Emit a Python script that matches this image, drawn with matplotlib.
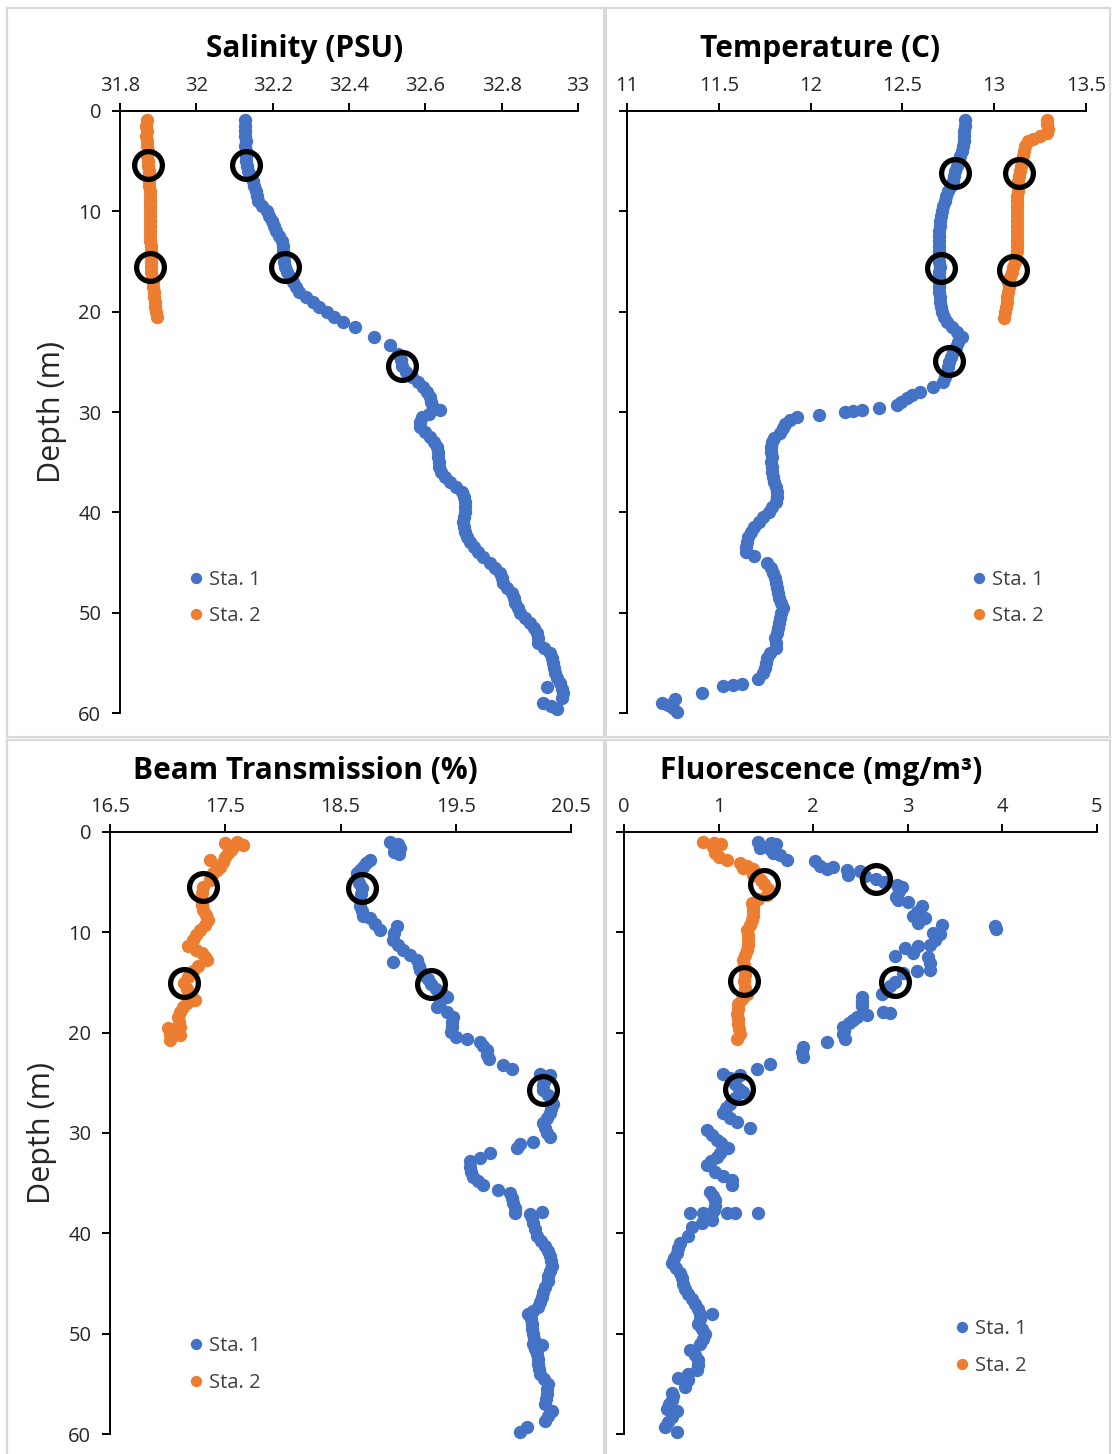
import matplotlib
matplotlib.use("Agg")
import matplotlib.pyplot as plt
from matplotlib.patches import Rectangle

plt.rcParams['font.family'] = ['Open Sans', 'DejaVu Sans']

BLUE = '#4472C4'
ORANGE = '#ED7D31'

# ---------------- Salinity (PSU) ----------------
sal1_depth = [0.9,1.5,2,2.5,3,3.5,4,4.5,5,5.5,6,6.5,7,7.5,8,8.5,9,9.5,10,10.5,11,11.5,12,12.5,13,13.5,14,14.5,15,15.5,
              16,16.5,17,17.5,18,18.5,19,19.5,20,20.5,21,21.5,22.5,23.3,24.2,24.8,25.4,26,26.5,27,27.5,28,28.5,29,29.5,29.8,
              30.2,30.5,31,31.5,32,32.5,33,33.5,34,34.5,35,35.5,36,36.5,37,37.5,38,38.5,39,39.5,40,40.5,41,41.5,42,42.5,
              43,43.5,44,44.5,45,45.5,46,46.5,47,47.5,48,48.5,49,49.5,50,50.5,51,51.5,52,52.5,53,53.5,54,54.5,55,55.5,
              56,56.5,57,57.4,57.6,58,58.5,59,59.3,59.6]
sal1_val = [32.127,32.127,32.128,32.127,32.129,32.128,32.13,32.13,32.13,32.132,32.136,32.142,32.148,32.152,32.156,32.158,
            32.162,32.172,32.185,32.19,32.198,32.203,32.21,32.216,32.224,32.226,32.228,32.229,32.231,32.233,
            32.238,32.245,32.253,32.262,32.27,32.288,32.306,32.322,32.342,32.362,32.384,32.416,32.465,32.507,32.528,32.535,
            32.539,32.55,32.565,32.58,32.594,32.605,32.612,32.615,32.62,32.638,
            32.61,32.59,32.586,32.586,32.6,32.612,32.622,32.63,32.632,32.633,32.635,32.637,32.64,32.652,32.665,32.68,
            32.696,32.7,32.704,32.705,32.704,32.702,32.699,32.702,32.705,32.71,
            32.717,32.727,32.738,32.752,32.77,32.783,32.795,32.8,32.803,32.815,32.827,32.832,32.835,32.842,32.848,32.86,
            32.874,32.885,32.893,32.894,32.895,32.91,32.927,32.932,32.935,32.938,
            32.94,32.946,32.953,32.92,32.958,32.96,32.957,32.908,32.93,32.945]
sal2_depth = [0.9,1.5,2,2.5,3,3.5,4,4.5,5,5.5,6,6.5,7,7.5,8,8.5,9,9.5,10,10.5,11,11.5,12,12.5,13,13.5,14,14.5,15,15.5,
              16,16.5,17,17.5,18,18.5,19,19.5,20,20.5]
sal2_val = [31.870,31.869,31.871,31.869,31.872,31.871,31.873,31.872,31.873,31.874,31.875,31.876,31.877,31.877,31.878,
            31.878,31.879,31.879,31.879,31.879,31.878,31.879,31.879,31.878,31.879,31.88,31.88,31.88,31.88,31.881,
            31.882,31.884,31.886,31.887,31.888,31.889,31.891,31.893,31.895,31.897]
sal_circ_depth = [5.4, 15.5, 5.4, 15.5, 25.4]
sal_circ_val = [31.873, 31.879, 32.130, 32.232, 32.539]

# ---------------- Temperature (C) ----------------
tem1_depth = [0.9,1.5,2,2.5,3,3.5,4,4.5,5,5.5,6,6.5,7,7.5,8,8.5,9,9.5,10,10.5,11,11.5,12,12.5,13,13.5,14,14.5,15,15.5,
              16,16.5,17,17.5,18,18.5,19,19.5,20,20.5,21,21.5,22,22.5,23,23.5,24,24.5,25,25.5,26,26.5,27,27.5,28,28.3,
              28.6,29.0,29.3,29.6,29.8,29.9,30.0,30.3,30.5,30.8,31.2,31.6,32.1,32.6,33.0,33.5,34,34.5,35,35.5,36,36.5,
              37,37.5,38,38.5,39,39.5,40,40.5,41,41.5,42,42.5,43,43.5,44,44.4,45,45.5,46,46.5,47,47.5,48,48.5,49,49.5,
              50,50.5,51,51.5,52,52.5,53,53.5,54,54.5,55,55.5,56,56.6,57.1,57.2,57.3,58.0,58.6,59.0,59.2,59.5,59.9]
tem1_val = [12.841,12.84,12.838,12.836,12.833,12.828,12.823,12.815,12.806,12.797,12.789,12.783,12.777,12.764,12.75,12.74,
            12.732,12.722,12.714,12.708,12.705,12.703,12.701,12.7,12.7,12.7,12.701,12.701,12.702,12.703,
            12.702,12.7,12.7,12.7,12.701,12.703,12.705,12.709,12.714,12.727,12.741,12.77,12.796,12.823,12.805,12.79,
            12.776,12.764,12.754,12.748,12.741,12.732,12.723,12.668,12.596,12.55,
            12.523,12.49,12.47,12.37,12.278,12.23,12.187,12.047,11.924,11.888,11.86,11.85,11.833,11.8,11.788,11.787,
            11.786,11.788,11.787,11.788,11.79,11.795,
            11.8,11.81,11.815,11.815,11.81,11.79,11.775,11.74,11.72,11.69,11.675,11.66,11.652,11.65,11.65,11.69,
            11.765,11.785,11.797,11.805,11.81,11.815,11.822,11.83,11.84,11.852,
            11.84,11.833,11.83,11.825,11.818,11.806,11.81,11.81,11.78,11.76,11.755,11.75,11.74,11.715,11.625,11.58,
            11.525,11.407,11.261,11.189,11.225,11.25,11.271]
tem2_depth = [0.9,1.3,1.8,2.2,2.5,2.8,3.0,3.5,4,4.5,5,5.5,6,6.5,7,7.5,8,8.5,9,9.5,10,10.5,11,11.5,12,12.5,13,13.5,14,
              14.5,15,15.5,16,16.5,17,17.5,18,18.5,19,19.5,20,20.6]
tem2_val = [13.286,13.29,13.295,13.29,13.25,13.21,13.186,13.168,13.162,13.159,13.152,13.144,13.138,13.134,13.132,
            13.131,13.128,13.125,13.122,13.123,13.125,13.126,13.125,13.126,13.126,13.125,13.125,13.124,13.122,
            13.118,13.113,13.105,13.097,13.087,13.077,13.078,13.077,13.072,13.068,13.063,13.059,13.053]
tem_circ_depth = [6.2, 6.2, 15.65, 15.85, 24.9]
tem_circ_val = [12.786, 13.135, 12.71, 13.10, 12.754]

# ---------------- Beam Transmission (%) ----------------
bt1_depth = [1.0,1.2,1.4,1.6,2.0,2.2,2.8,3.1,3.5,3.8,4.1,4.6,5.1,5.6,6.2,6.8,7.4,7.9,8.4,8.6,9.2,9.4,9.8,10.1,10.8,
             11.3,11.8,12.3,12.8,13.0,13.4,13.8,14.3,14.7,15.15,15.6,16.0,16.4,16.9,17.4,17.9,18.4,18.9,19.4,19.9,
             20.4,20.6,20.9,21.3,21.7,22.2,22.6,23.2,23.6,24.1,24.2,24.7,25.2,25.7,26.2,26.6,27.1,27.6,28.0,28.5,
             29.0,29.5,30.0,30.4,30.9,31.1,31.5,32.0,32.5,32.8,33.4,33.9,34.4,34.8,35.2,35.7,36.0,36.5,37.0,37.5,
             37.9,38.0,38.1,38.5,39.0,39.6,40.3,40.8,41.3,41.8,42.3,42.8,43.3,43.8,44.3,44.8,45.3,45.8,46.3,46.8,
             47.3,47.7,48.0,48.5,49.0,49.5,50.0,50.5,51.0,51.1,51.5,52.0,52.5,53.0,53.5,54.0,54.5,55.0,55.5,56.0,
             56.5,57.0,57.7,58.2,58.7,59.3,59.8]
bt1_val = [18.93,19.0,18.96,19.02,18.96,19.01,18.756,18.72,18.698,18.67,18.64,18.64,18.66,18.687,18.68,18.669,18.67,
           18.69,18.698,18.756,18.80,18.988,18.843,18.96,18.958,19.0,19.045,19.1,19.161,18.958,19.18,19.19,19.22,
           19.26,19.285,19.33,19.38,19.421,19.36,19.335,19.42,19.479,19.47,19.465,19.46,
           19.50,19.595,19.71,19.74,19.768,19.77,19.787,19.913,19.985,20.231,20.318,20.274,20.26,20.257,20.3,20.33,
           20.347,20.33,20.318,20.29,20.26,20.275,20.289,20.318,20.173,20.058,20.03,19.797,19.71,19.624,19.624,
           19.63,19.652,19.69,19.739,19.869,19.971,19.99,19.999,20.01,
           20.246,20.014,20.144,20.16,20.173,20.19,20.202,20.24,20.274,20.3,20.318,20.33,20.333,20.32,20.303,20.3,
           20.274,20.26,20.246,20.23,20.216,20.17,20.13,20.15,20.159,20.165,20.173,20.175,20.173,20.246,20.19,
           20.202,20.21,20.216,20.22,20.231,20.27,20.303,20.29,20.289,20.28,20.274,20.333,20.3,20.274,20.116,20.058]
bt2_depth = [1.0,1.1,1.3,1.5,1.8,2.1,2.5,2.8,3.0,3.5,3.8,4.1,4.5,4.8,5.5,6.1,6.8,7.3,7.8,8.3,8.8,9.3,9.8,10.3,10.8,
             11.4,11.8,12.1,12.5,12.8,13.4,13.9,14.5,15.05,15.6,16.2,16.7,17.0,17.4,17.9,18.4,18.9,19.4,19.5,20.1,
             20.2,20.7]
bt2_val = [17.6,17.5,17.65,17.57,17.55,17.527,17.5,17.368,17.483,17.454,17.43,17.397,17.38,17.368,17.307,17.3,17.296,
           17.3,17.31,17.33,17.353,17.32,17.281,17.25,17.223,17.18,17.25,17.296,17.32,17.339,17.266,17.22,17.18,
           17.142,17.17,17.2,17.238,17.17,17.136,17.11,17.093,17.1,17.107,17.006,17.02,17.107,17.02]
bt_circ_depth = [5.5, 5.6, 15.05, 15.15, 25.7]
bt_circ_val = [17.307, 18.687, 17.142, 19.285, 20.257]

# ---------------- Fluorescence (mg/m3) ----------------
fl1_depth = [1.0,1.1,1.2,1.6,1.7,2.1,2.3,2.8,2.9,3.4,3.5,3.7,3.8,3.9,4.3,4.4,4.7,5.0,5.3,5.5,5.9,6.5,6.8,7.0,7.4,8.0,
             8.4,8.6,9.1,9.3,9.4,9.7,10.1,10.2,10.8,11.3,11.4,11.6,12.1,12.4,12.5,13.1,13.8,13.9,14.1,14.95,15.3,
             15.8,16.1,16.4,16.9,17.3,17.9,18.0,18.2,18.4,18.7,19.0,19.4,19.8,20.1,20.6,20.9,21.4,21.9,22.4,23.1,
             23.6,24.1,24.2,24.5,24.7,25.1,25.6,25.9,26.5,27.1,27.5,28.0,28.5,28.9,29.5,29.7,30.2,30.7,31.0,31.5,
             32.0,32.4,32.8,33.2,33.9,34.3,34.7,35.2,35.9,36.3,36.7,37.3,37.7,38.0,38.0,38.0,38.0,38.0,38.0,38.7,
             39.0,39.4,40.3,41.0,41.5,42.0,42.5,43.0,43.5,44.0,44.5,45.0,45.5,46.0,46.5,47.0,47.5,48.0,48.0,48.5,
             49.0,49.5,50.0,50.5,51.0,51.6,52.1,52.6,53.1,53.6,54.0,54.4,54.6,55.3,55.9,56.2,56.6,57.0,57.5,57.7,
             58.3,58.8,59.3,59.8]
fl1_val = [1.42,1.55,1.61,1.437,1.543,1.578,1.649,1.72,2.019,2.072,2.213,2.15,2.354,2.495,2.371,2.55,2.66,2.75,2.883,
           2.935,2.905,2.88,2.896,3.005,3.147,3.1,3.058,3.182,3.11,3.358,3.922,3.93,3.27,3.34,3.288,3.235,3.11,2.97,
           3.05,2.865,3.217,3.23,3.23,3.094,2.953,2.86,2.812,2.76,2.724,2.513,2.52,2.513,2.741,2.812,2.572,2.46,
           2.425,2.38,2.319,2.33,2.319,2.336,2.143,1.895,1.878,1.895,1.543,1.403,1.05,1.226,1.12,1.155,1.17,1.22,
           1.261,1.17,1.12,1.08,1.05,1.12,1.19,1.332,0.874,0.93,0.98,1.03,1.103,1.02,0.98,0.92,0.874,0.962,1.05,
           1.138,1.138,0.909,0.94,0.962,0.962,0.95,0.698,0.838,0.927,1.085,1.173,1.42,0.927,0.82,0.715,0.68,0.592,
           0.575,0.557,0.53,0.504,0.55,0.592,0.61,0.627,0.65,0.68,0.715,0.751,0.78,0.803,0.927,0.8,0.786,0.82,
           0.856,0.83,0.803,0.698,0.75,0.786,0.78,0.768,0.68,0.574,0.68,0.645,0.504,0.52,0.504,0.48,0.451,0.557,
           0.504,0.47,0.433,0.557]
fl2_depth = [1.0,1.1,1.2,1.5,2.1,2.5,2.8,3.1,3.4,3.6,3.7,4.3,4.8,5.2,5.7,6.3,6.7,7.1,7.5,7.9,8.4,8.8,9.3,9.8,10.3,
             10.8,11.3,11.8,12.3,12.8,13.3,13.8,14.3,14.85,15.5,16.1,16.6,17.1,17.6,18.1,18.6,19.1,19.6,20.1,20.6]
fl2_val = [0.84,0.95,1.03,0.944,0.962,1.0,1.085,1.226,1.3,1.261,1.367,1.367,1.45,1.48,1.52,1.508,1.42,1.35,1.36,
           1.367,1.36,1.35,1.33,1.297,1.31,1.314,1.31,1.297,1.28,1.261,1.27,1.279,1.28,1.27,1.28,1.297,1.25,1.209,
           1.2,1.19,1.2,1.209,1.22,1.226,1.19]
fl_circ_depth = [5.2, 4.7, 14.85, 14.95, 25.6]
fl_circ_val = [1.48, 2.66, 1.27, 2.86, 1.22]

titles = ['Salinity (PSU)', 'Temperature (C)', 'Beam Transmission (%)', 'Fluorescence (mg/m³)']
xticks_list = [[31.8, 32, 32.2, 32.4, 32.6, 32.8, 33],
               [11, 11.5, 12, 12.5, 13, 13.5],
               [16.5, 17.5, 18.5, 19.5, 20.5],
               [0, 1, 2, 3, 4, 5]]
xticklabels_list = [['31.8', '32', '32.2', '32.4', '32.6', '32.8', '33'],
                    ['11', '11.5', '12', '12.5', '13', '13.5'],
                    ['16.5', '17.5', '18.5', '19.5', '20.5'],
                    ['0', '1', '2', '3', '4', '5']]
depth_ticks = [0, 10, 20, 30, 40, 50, 60]
series_labels = ['Sta. 1', 'Sta. 2']

W, H = 1112, 1454
fig = plt.figure(figsize=(W / 100, H / 100), dpi=100)
fig.patch.set_facecolor('white')

def px_axes(l, r, t, b):
    return fig.add_axes([l / W, 1 - b / H, (r - l) / W, (b - t) / H])

axes_px = [(120, 578, 111, 713), (627, 1086, 111, 713), (110, 571, 832, 1434), (624, 1097, 832, 1434)]
panels = [
    (sal1_val, sal1_depth, sal2_val, sal2_depth, sal_circ_val, sal_circ_depth),
    (tem1_val, tem1_depth, tem2_val, tem2_depth, tem_circ_val, tem_circ_depth),
    (bt1_val, bt1_depth, bt2_val, bt2_depth, bt_circ_val, bt_circ_depth),
    (fl1_val, fl1_depth, fl2_val, fl2_depth, fl_circ_val, fl_circ_depth),
]
title_pos = [(305, 49), (820, 49), (305, 771), (821, 771)]
legend_anchor = [(0.153, 0.191), (0.754, 0.191), (0.1735, 0.1155), (0.702, 0.1435)]

# chart area borders
for (x0, y0, x1, y1) in [(7, 8, 604, 737), (606, 8, 1110, 737), (7, 740, 604, 1460), (606, 740, 1110, 1460)]:
    fig.add_artist(Rectangle((x0 / W, 1 - y1 / H), (x1 - x0) / W, (y1 - y0) / H, transform=fig.transFigure,
                             fill=False, ec='#d9d9d9', lw=1.6))

for i, (ax_px, data) in enumerate(zip(axes_px, panels)):
    ax = px_axes(*ax_px)
    x1, d1, x2, d2, xc, dc = data
    h1, = ax.plot(x1, d1, 'o', color=BLUE, ms=9.6, mec='none', label=series_labels[0], clip_on=False, zorder=3)
    h2, = ax.plot(x2, d2, 'o', color=ORANGE, ms=9.6, mec='none', label=series_labels[1], clip_on=False, zorder=3)
    ax.plot(xc, dc, 'o', mfc='none', mec='black', ms=20, mew=3.8, clip_on=False, zorder=4)
    xt = xticks_list[i]
    ax.set_xlim(xt[0], xt[-1])
    ax.set_ylim(60, 0)
    ax.xaxis.tick_top()
    ax.set_xticks(xt)
    ax.set_xticklabels(xticklabels_list[i])
    ax.set_yticks(depth_ticks)
    for s in ['bottom', 'right']:
        ax.spines[s].set_visible(False)
    for s in ['top', 'left']:
        ax.spines[s].set_linewidth(1.4)
        ax.spines[s].set_color('black')
    ax.tick_params(axis='x', direction='out', length=5.5, width=1.4, pad=5, labelsize=14.5, colors='black',
                   labelcolor='#262626')
    ax.tick_params(axis='y', direction='out', length=5.5, width=1.4, pad=8, labelsize=14.5, colors='black',
                   labelcolor='#262626')
    if i in (1, 3):
        ax.set_yticklabels([])
    else:
        ax.set_ylabel('Depth (m)', fontsize=22, color='#262626', labelpad=8)
    fig.text(title_pos[i][0] / W, 1 - title_pos[i][1] / H, titles[i], fontsize=21.5, fontweight='bold',
             ha='center', va='center', color='black')
    ax.legend(handles=[h1, h2], loc='center left', bbox_to_anchor=legend_anchor[i], frameon=False,
              fontsize=14.5, handlelength=0.6, handletextpad=0.35, labelspacing=0.82, borderpad=0,
              borderaxespad=0, markerscale=0.85, labelcolor='#404040')

fig.savefig('out.png', dpi=100)
